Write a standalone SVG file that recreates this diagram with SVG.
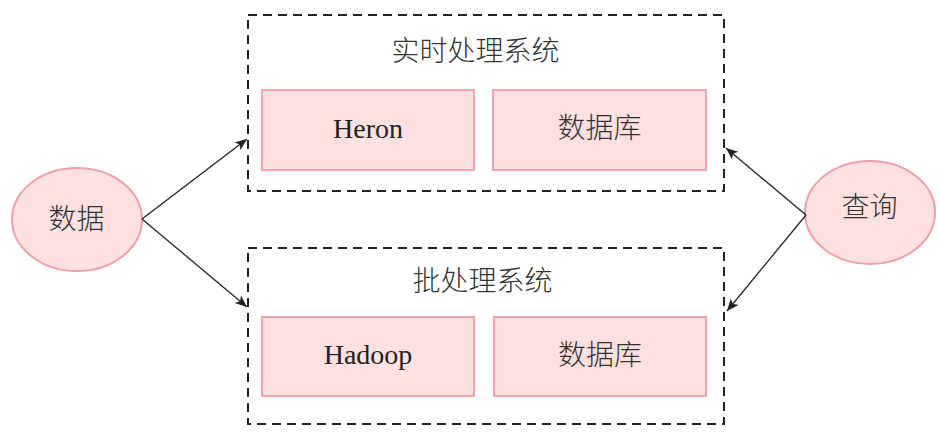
<svg xmlns="http://www.w3.org/2000/svg" width="939" height="433" viewBox="0 0 939 433">
<style>
.group{fill:none;stroke:#222;stroke-width:2;stroke-dasharray:9 6}
.box{fill:#fde0e0;stroke:#f0a3ab;stroke-width:2}
.ell{fill:#fde0e0;stroke:#ee9fa8;stroke-width:2}
.zh{font-family:"Noto Sans CJK SC","Noto Sans",sans-serif;font-size:28px;font-weight:300;fill:#333;text-anchor:middle}
.en{font-family:"Liberation Serif",serif;font-size:28px;fill:#222;text-anchor:middle}
.conn{stroke:#222;stroke-width:1.3;fill:none;marker-end:url(#arr)}
</style>
<defs>
<marker id="arr" markerWidth="14" markerHeight="12" refX="12" refY="5" orient="auto" markerUnits="userSpaceOnUse">
<path d="M0,0 L12,5 L0,10 L3,5 Z" fill="#222"/>
</marker>
</defs>
<rect width="939" height="433" fill="#fff"/>
<g id="realtime">
<rect class="group" x="248" y="15" width="476" height="176"/>
<text class="zh" x="475.5" y="61">实时处理系统</text>
</g>
<g id="heron">
<rect class="box" x="262" y="90" width="212" height="80"/>
<text class="en" x="368" y="138">Heron</text>
</g>
<g id="db1">
<rect class="box" x="493" y="90" width="213" height="80"/>
<text class="zh" x="599.5" y="138">数据库</text>
</g>
<g id="batch">
<rect class="group" x="248" y="248" width="476" height="176"/>
<text class="zh" x="482.5" y="291">批处理系统</text>
</g>
<g id="hadoop">
<rect class="box" x="262" y="317" width="212" height="79"/>
<text class="en" x="368" y="364">Hadoop</text>
</g>
<g id="db2">
<rect class="box" x="494" y="317" width="212" height="79"/>
<text class="zh" x="600" y="365">数据库</text>
</g>
<g id="data">
<ellipse class="ell" cx="77" cy="219.5" rx="65" ry="51.5"/>
<text class="zh" x="76.5" y="229">数据</text>
</g>
<g id="query">
<ellipse class="ell" cx="870" cy="212.5" rx="65" ry="51.5"/>
<text class="zh" x="869.5" y="217">查询</text>
</g>
<g id="connectors">
<line class="conn" x1="142" y1="219" x2="247" y2="139"/>
<line class="conn" x1="142" y1="219" x2="247" y2="307"/>
<line class="conn" x1="806" y1="215" x2="726" y2="148"/>
<line class="conn" x1="806" y1="215" x2="727" y2="311"/>
</g>
</svg>
